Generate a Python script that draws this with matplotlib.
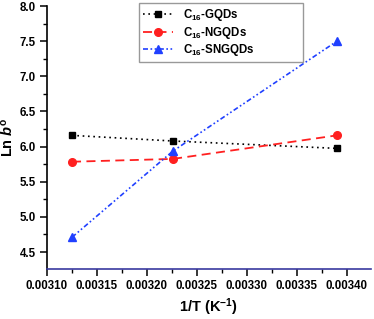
import matplotlib
matplotlib.use("Agg")
import matplotlib.pyplot as plt
from matplotlib.ticker import MultipleLocator

inv_T = [0.003125, 0.0032258, 0.003390]
ln_b_gqd = [6.16, 6.08, 5.975]
ln_b_ngqd = [5.785, 5.825, 6.16]
ln_b_sngqd = [4.71, 5.935, 7.50]
labels = [r'C$_{\mathbf{16}}$-GQDs', r'C$_{\mathbf{16}}$-NGQDs', r'C$_{\mathbf{16}}$-SNGQDs']

plt.rcParams['font.family'] = ['Liberation Sans', 'DejaVu Sans']
plt.rcParams['mathtext.fontset'] = 'custom'
plt.rcParams['mathtext.rm'] = 'Liberation Sans'
plt.rcParams['mathtext.it'] = 'Liberation Sans:italic:bold'
plt.rcParams['mathtext.bf'] = 'Liberation Sans:bold'

fig = plt.figure(figsize=(3.74, 3.19), dpi=100)
ax = fig.add_axes([0.1257, 0.157, 0.866, 0.824])

ax.plot(inv_T, ln_b_gqd, color='black', linestyle=(0, (1, 2.2)), linewidth=1.2,
        marker='s', markersize=4.5, label=labels[0])
ax.plot(inv_T, ln_b_ngqd, color='#ff2020', linestyle=(0, (5, 3)), linewidth=1.3,
        marker='o', markersize=5.5, label=labels[1])
ax.plot(inv_T, ln_b_sngqd, color='#2040ff', linestyle=(0, (3, 1.5, 1, 1.5, 1, 1.5)), linewidth=1.2,
        marker='^', markersize=5.5, label=labels[2])

ax.set_xlim(0.00310, 0.003424)
ax.set_ylim(4.26, 8.0)
ax.xaxis.set_major_locator(MultipleLocator(0.00005))
ax.xaxis.set_minor_locator(MultipleLocator(0.000025))
ax.yaxis.set_major_locator(MultipleLocator(0.5))
ax.yaxis.set_minor_locator(MultipleLocator(0.25))
ax.xaxis.set_major_formatter(matplotlib.ticker.FuncFormatter(lambda v, p: f'{v:.5f}'))
ax.yaxis.set_major_formatter(matplotlib.ticker.FuncFormatter(lambda v, p: f'{v:.1f}'))

for s in ['top', 'right']:
    ax.spines[s].set_visible(False)
ax.spines['left'].set_linewidth(1.2)
ax.spines['bottom'].set_linewidth(1.2)
ax.spines['bottom'].set_color('#3a3aa0')
ax.tick_params(which='major', direction='out', length=5, width=1.1, labelsize=8.3, pad=3)
ax.tick_params(which='minor', direction='out', length=3, width=1.0)
for t in ax.get_xticklabels() + ax.get_yticklabels():
    t.set_fontweight('bold')

ax.set_xlabel(r'1/T (K$^{\mathbf{-1}}$)', fontsize=10.5, fontweight='bold', labelpad=3)
ax.set_ylabel(r'Ln $b$$^{\mathbf{o}}$', fontsize=10.5, fontweight='bold', labelpad=3)

leg = ax.legend(loc='upper left', bbox_to_anchor=(0.284, 1.012, 0.506, 0.0), mode='expand',
                frameon=True, fancybox=False,
                edgecolor='#808080', prop={'weight': 'bold', 'size': 8.3},
                handlelength=2.6, labelspacing=0.15, borderpad=0.35, handletextpad=0.9,
                borderaxespad=0)
leg.get_frame().set_linewidth(1.0)

fig.savefig('out.png', dpi=100)
